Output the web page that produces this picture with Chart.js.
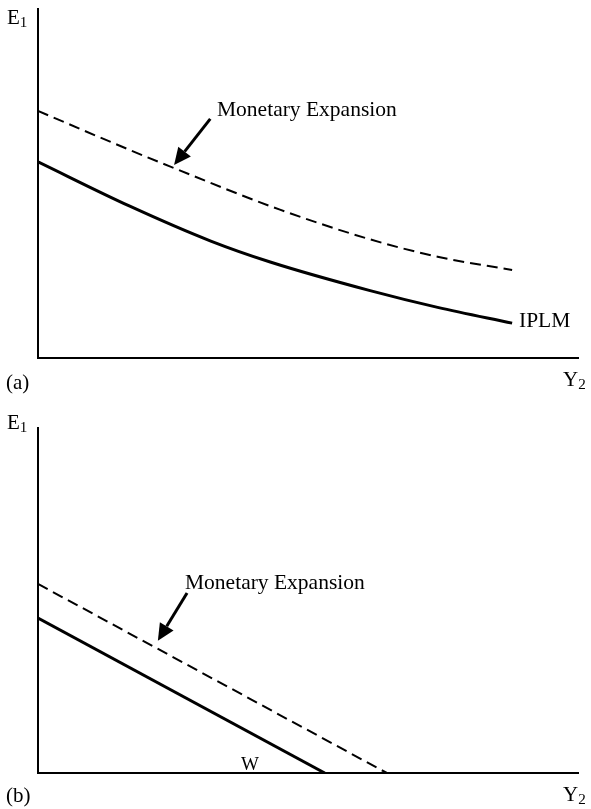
<!DOCTYPE html>
<html>
<head>
<meta charset="utf-8">
<script src="https://cdn.jsdelivr.net/npm/chart.js@4"></script>
<style>
  body { margin: 0; background: #fff; }
  #wrap { position: relative; width: 591px; height: 809px; }
  canvas { position: absolute; left: 0; }
  .lbl { position: absolute; font-family: "Liberation Serif", "DejaVu Serif", serif; font-size: 21px; line-height: 1; color: #000; white-space: nowrap; }
  .lbl .s { font-size: 0.72em; position: relative; top: 0.22em; }
</style>
</head>
<body>
<div id="wrap">
  <canvas id="chartA" width="591" height="400" style="top:0"></canvas>
  <canvas id="chartB" width="591" height="409" style="top:400px"></canvas>

  <div class="lbl" style="left:7px; top:7px">E<span class="s">1</span></div>
  <div class="lbl" style="left:6px; top:372px">(a)</div>
  <div class="lbl" style="left:563px; top:369px">Y<span class="s">2</span></div>
  <div class="lbl" style="left:217px; top:99px; font-size:21.5px">Monetary Expansion</div>
  <div class="lbl" style="left:519px; top:310px; font-size:21.5px">IPLM</div>

  <div class="lbl" style="left:7px; top:412px">E<span class="s">1</span></div>
  <div class="lbl" style="left:6px; top:785px">(b)</div>
  <div class="lbl" style="left:563px; top:784px">Y<span class="s">2</span></div>
  <div class="lbl" style="left:185px; top:572px; font-size:21.5px">Monetary Expansion</div>
  <div class="lbl" style="left:241px; top:754px; font-size:19px">W</div>
</div>

<script>
// panel (a): IPLM curve and the shifted curve after monetary expansion
const iplmX = [0, 17, 32, 43, 61.5, 74, 87.8];
const iplmY = [56.2, 43.5, 33.5, 27.5, 19.3, 14.5, 10.0];
const expAX = [0, 17, 24.4, 44.8, 61.5, 74, 87.8];
const expAY = [70.8, 59.6, 54.9, 42.5, 34.0, 29.0, 25.2];

// panel (b): W line and its shift
const wX = [0, 53.1];
const wY = [44.9, 0];
const expBX = [0, 64.6];
const expBY = [54.8, 0];

// arrows (tail -> head) in data units
const arrowA = [[31.9, 68.5], [25.2, 55.3]];
const arrowB = [[27.6, 52.2], [22.2, 38.3]];

const toPts = (xs, ys) => xs.map((x, i) => ({ x: x, y: ys[i] }));

const arrowPlugin = {
  id: "arrow",
  afterDatasetsDraw(chart, args, opts) {
    if (!opts.points) return;
    const ctx = chart.ctx;
    const xs = chart.scales.x, ys = chart.scales.y;
    const x1 = xs.getPixelForValue(opts.points[0][0]), y1 = ys.getPixelForValue(opts.points[0][1]);
    const x2 = xs.getPixelForValue(opts.points[1][0]), y2 = ys.getPixelForValue(opts.points[1][1]);
    const ang = Math.atan2(y2 - y1, x2 - x1);
    const len = 17, half = 8;
    const bx = x2 - len * Math.cos(ang), by = y2 - len * Math.sin(ang);
    ctx.save();
    ctx.strokeStyle = "#000";
    ctx.fillStyle = "#000";
    ctx.lineWidth = 3;
    ctx.beginPath();
    ctx.moveTo(x1, y1);
    ctx.lineTo(bx, by);
    ctx.stroke();
    ctx.beginPath();
    ctx.moveTo(x2, y2);
    ctx.lineTo(bx + half * Math.sin(ang), by - half * Math.cos(ang));
    ctx.lineTo(bx - half * Math.sin(ang), by + half * Math.cos(ang));
    ctx.closePath();
    ctx.fill();
    ctx.restore();
  }
};

function axisOpts() {
  return {
    type: "linear",
    min: 0,
    max: 100,
    grid: { display: false, drawTicks: false },
    ticks: { display: false },
    border: { display: true, color: "#000", width: 2 }
  };
}

function makeChart(id, datasets, arrow, pad) {
  const ctx = document.getElementById(id).getContext("2d");
  return new Chart(ctx, {
    type: "scatter",
    data: { datasets: datasets },
    options: {
      responsive: false,
      animation: false,
      layout: { padding: pad },
      plugins: {
        legend: { display: false },
        tooltip: { enabled: false },
        arrow: { points: arrow }
      },
      scales: { x: axisOpts(), y: axisOpts() }
    },
    plugins: [arrowPlugin]
  });
}

const solid = { showLine: true, borderColor: "#000", borderWidth: 3, pointRadius: 0, fill: false };
const dashed = { showLine: true, borderColor: "#000", borderWidth: 2, borderDash: [11, 6], pointRadius: 0, fill: false };

makeChart("chartA", [
  Object.assign({ label: "IPLM", data: toPts(iplmX, iplmY), tension: 0.4, cubicInterpolationMode: "monotone" }, solid),
  Object.assign({ label: "Monetary Expansion", data: toPts(expAX, expAY), tension: 0.4, cubicInterpolationMode: "monotone" }, dashed)
], arrowA, { left: 38, right: 13, top: 9, bottom: 42 });

makeChart("chartB", [
  Object.assign({ label: "W", data: toPts(wX, wY) }, solid),
  Object.assign({ label: "Monetary Expansion", data: toPts(expBX, expBY) }, dashed)
], arrowB, { left: 38, right: 13, top: 28, bottom: 36 });
</script>
</body>
</html>
